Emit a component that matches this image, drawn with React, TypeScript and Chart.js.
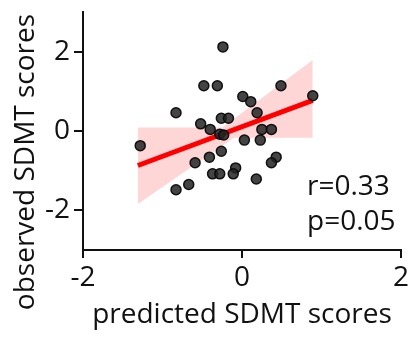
import React, { useEffect, useRef } from "react";
import { Chart, registerables } from "chart.js";

Chart.register(...registerables);

const predicted = [-0.24, -0.48, -0.31, 0.49, 0.01, 0.11, 0.89, -0.83, 0.19, -0.26, -0.17, -0.52, -0.40, -0.28, -0.23, 0.25, 0.37, 0.03, 0.23, -1.28, -0.26, -0.41, -0.59, 0.43, 0.37, -0.08, -0.11, -0.37, -0.28, 0.18, -0.67, -0.83];
const observed = [2.12, 1.14, 1.14, 1.14, 0.87, 0.74, 0.89, 0.46, 0.46, 0.32, 0.32, 0.18, 0.04, -0.08, -0.10, 0.04, 0.04, -0.23, -0.23, -0.37, -0.51, -0.66, -0.80, -0.66, -0.80, -0.93, -1.08, -1.08, -1.08, -1.21, -1.35, -1.48];

const fitX = [-1.31, 0.89];
const fitY = [-0.87, 0.77];

const bandX = [-1.31, -0.25, -0.1, 0.89];
const bandUpper = [0.09, 0.09, 0.31, 1.79];
const bandLower = [-1.84, -0.38, -0.17, -0.17];

const tickValues = [-2, 0, 2];
const statLines = ["r=0.33", "p=0.05"];
const xTitle = "predicted SDMT scores";
const yTitle = "observed SDMT scores";

const FONT = "'Open Sans', sans-serif";

export default function App() {
  const ref = useRef<HTMLCanvasElement | null>(null);

  useEffect(() => {
    if (!ref.current) return;
    const textPlugin = {
      id: "texts",
      afterDraw(chart: any) {
        const ctx = chart.ctx;
        ctx.save();
        ctx.fillStyle = "#111";
        ctx.font = `28px ${FONT}`;
        ctx.textAlign = "left";
        ctx.textBaseline = "alphabetic";
        ctx.fillText(statLines[0], 307, 195);
        ctx.fillText(statLines[1], 307, 230);
        ctx.translate(34, 162);
        ctx.rotate(-Math.PI / 2);
        ctx.textAlign = "center";
        ctx.fillText(yTitle, 0, 0);
        ctx.restore();
      },
    };

    const chart = new Chart(ref.current, {
      type: "scatter",
      data: {
        datasets: [
          {
            data: predicted.map((x, i) => ({ x, y: observed[i] })),
            backgroundColor: "rgba(35,35,35,0.85)",
            borderColor: "rgba(10,10,10,0.95)",
            borderWidth: 1.5,
            pointRadius: 5,
            order: 0,
          },
          {
            data: fitX.map((x, i) => ({ x, y: fitY[i] })),
            showLine: true,
            borderColor: "#ff0000",
            borderWidth: 5,
            pointRadius: 0,
            order: 1,
          },
          {
            data: bandX.map((x, i) => ({ x, y: bandUpper[i] })),
            showLine: true,
            borderWidth: 0,
            borderColor: "rgba(0,0,0,0)",
            backgroundColor: "rgba(255,0,0,0.16)",
            pointRadius: 0,
            fill: "+1",
            order: 2,
          },
          {
            data: bandX.map((x, i) => ({ x, y: bandLower[i] })),
            showLine: true,
            borderWidth: 0,
            borderColor: "rgba(0,0,0,0)",
            pointRadius: 0,
            order: 3,
          },
        ],
      },
      options: {
        responsive: false,
        animation: false,
        layout: { padding: { top: 12, right: 13, left: 0, bottom: 0 } },
        plugins: { legend: { display: false }, tooltip: { enabled: false } },
        scales: {
          x: {
            type: "linear",
            min: -2,
            max: 2,
            afterBuildTicks: (s: any) => {
              s.ticks = tickValues.map((v) => ({ value: v }));
            },
            afterFit: (s: any) => {
              s.height = 87;
              s.paddingLeft = 0;
              s.paddingRight = 0;
            },
            grid: { display: true, drawOnChartArea: false, drawTicks: true, tickLength: 8, tickColor: "#111", lineWidth: 2 },
            border: { display: true, color: "#111", width: 2 },
            ticks: { color: "#111", font: { family: FONT, size: 28 }, padding: 3, maxRotation: 0 },
            title: { display: true, text: xTitle, color: "#111", font: { family: FONT, size: 28 }, padding: { top: 0, bottom: 5 } },
          },
          y: {
            type: "linear",
            min: -3,
            max: 3,
            afterBuildTicks: (s: any) => {
              s.ticks = tickValues.map((v) => ({ value: v }));
            },
            afterFit: (s: any) => {
              s.width = 83;
              s.paddingTop = 0;
              s.paddingBottom = 0;
            },
            grid: { display: true, drawOnChartArea: false, drawTicks: true, tickLength: 9, tickColor: "#111", lineWidth: 2 },
            border: { display: true, color: "#111", width: 2 },
            ticks: { color: "#111", font: { family: FONT, size: 28 }, padding: 4 },
          },
        },
      },
      plugins: [textPlugin],
    });
    return () => chart.destroy();
  }, []);

  return (
    <div style={{ position: "fixed", left: 0, top: 0, width: 414, height: 337, background: "#fff" }}>
      <canvas ref={ref} width={414} height={337} />
    </div>
  );
}
